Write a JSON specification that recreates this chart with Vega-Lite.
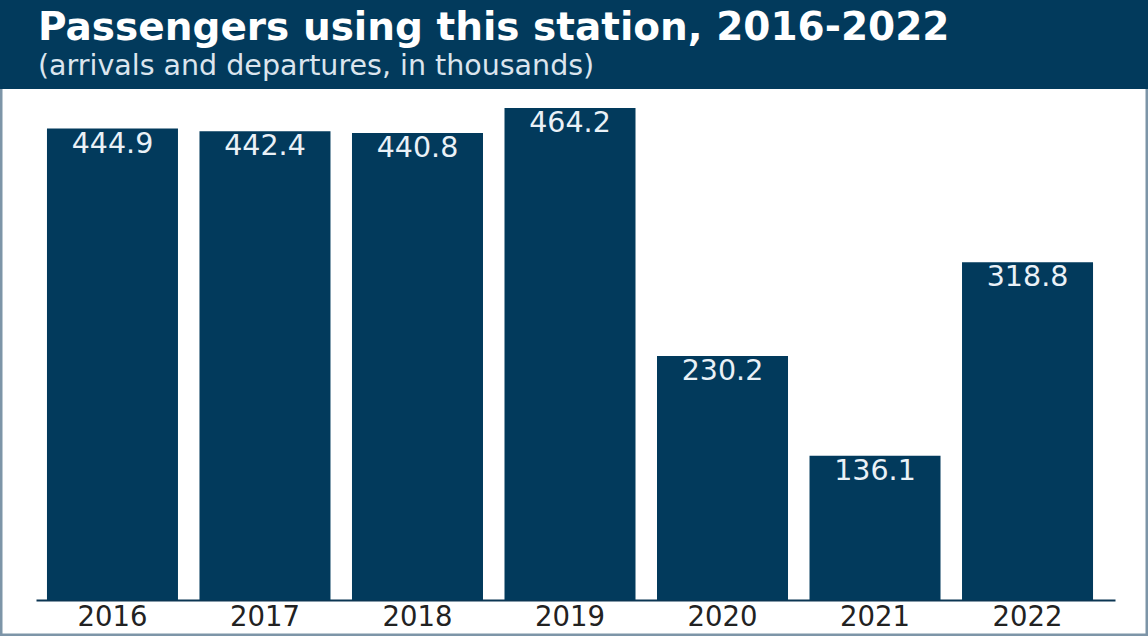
{
  "$schema": "https://vega.github.io/schema/vega-lite/v6.json",
  "width": 1148,
  "height": 636,
  "autosize": "none",
  "padding": 0,
  "background": "white",
  "config": {
    "view": {"stroke": "#7d95a8", "strokeWidth": 5, "fill": "white"},
    "font": "DejaVu Sans"
  },
  "title": {
    "text": "Passengers using this station, 2016-2022",
    "subtitle": "(arrivals and departures, in thousands)",
    "anchor": "start",
    "frame": "group",
    "orient": "top",
    "offset": -80,
    "dx": 38,
    "font": "DejaVu Sans",
    "fontSize": 39,
    "fontWeight": "bold",
    "color": "white",
    "subtitleFont": "DejaVu Sans",
    "subtitleFontSize": 28.5,
    "subtitleColor": "#dbe5ee",
    "subtitlePadding": 4
  },
  "data": {
    "values": [
      {"year": "2016", "value": 444.9},
      {"year": "2017", "value": 442.4},
      {"year": "2018", "value": 440.8},
      {"year": "2019", "value": 464.2},
      {"year": "2020", "value": 230.2},
      {"year": "2021", "value": 136.1},
      {"year": "2022", "value": 318.8}
    ]
  },
  "layer": [
    {
      "mark": {"type": "bar", "color": "#023a5c"},
      "encoding": {
        "x": {
          "field": "year",
          "type": "nominal",
          "scale": {"range": [36, 1115], "paddingInner": 0.141, "paddingOuter": 0.108, "align": 0.333},
          "axis": {
            "orient": "bottom",
            "offset": -36,
            "title": null,
            "labelAngle": 0,
            "labelFontSize": 27.5,
            "labelColor": "#222222",
            "labelPadding": 3,
            "ticks": false,
            "domainColor": "#0b3552",
            "domainWidth": 2
          }
        },
        "y": {"field": "value", "type": "quantitative", "axis": null, "scale": {"domain": [-33.97, 566.2], "nice": false, "zero": false}}
      }
    },
    {
      "mark": {"type": "text", "color": "#eaf1f7", "fontSize": 28.5, "baseline": "alphabetic", "dy": 24, "align": "center"},
      "encoding": {
        "x": {"field": "year", "type": "nominal"},
        "y": {"field": "value", "type": "quantitative"},
        "text": {"field": "value", "type": "quantitative", "format": ".1f"}
      }
    },
    {
      "mark": {"type": "rect", "color": "#023a5c"},
      "encoding": {
        "y": {"datum": 482.2, "type": "quantitative"},
        "y2": {"datum": 566.2}
      }
    }
  ]
}
